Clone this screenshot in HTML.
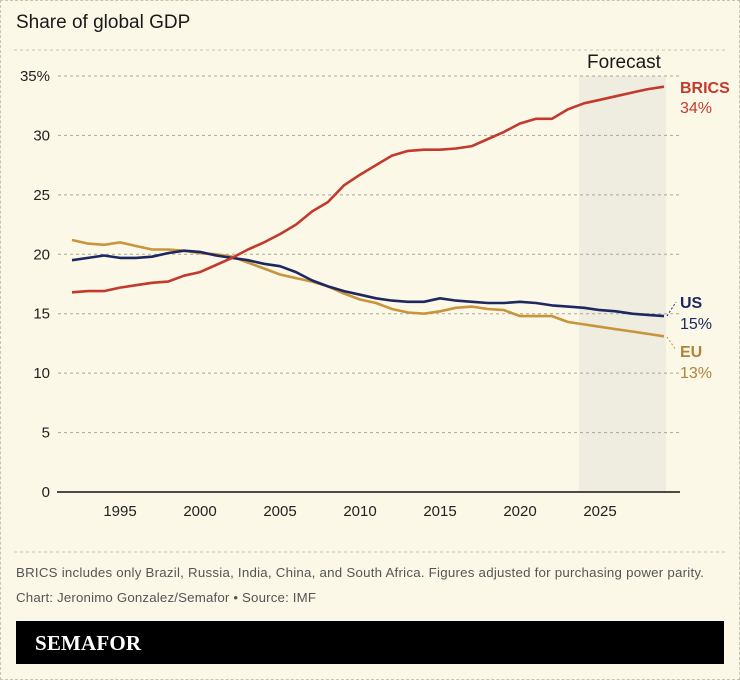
<!DOCTYPE html>
<html><head><meta charset="utf-8"><style>
body{margin:0;width:740px;height:680px;background:#fbf8e7;font-family:"Liberation Sans",sans-serif;overflow:hidden;position:relative}
.b{position:absolute;left:0;top:0;width:738px;height:678px;border:1px dashed #c9c5b5}
</style></head><body><div class="b"></div>
<svg id="s" width="740" height="680" style="position:absolute;left:0;top:0" font-family="Liberation Sans, sans-serif"></svg>
<script>
const X=y=>120+(y-1995)*16, Y=v=>492-v*416/35;
const B=[16.8,16.9,16.9,17.2,17.4,17.6,17.7,18.2,18.5,19.1,19.7,20.4,21.0,21.7,22.5,23.6,24.4,25.8,26.7,27.5,28.3,28.7,28.8,28.8,28.9,29.1,29.7,30.3,31.0,31.4,31.4,32.2,32.7,33.0,33.3,33.6,33.9,34.1];
const U=[19.5,19.7,19.9,19.7,19.7,19.8,20.1,20.3,20.2,19.9,19.7,19.5,19.2,19.0,18.5,17.8,17.3,16.9,16.6,16.3,16.1,16.0,16.0,16.3,16.1,16.0,15.9,15.9,16.0,15.9,15.7,15.6,15.5,15.3,15.2,15.0,14.9,14.8];
const E=[21.2,20.9,20.8,21.0,20.7,20.4,20.4,20.3,20.1,20.0,19.8,19.3,18.8,18.3,18.0,17.7,17.3,16.7,16.2,15.9,15.4,15.1,15.0,15.2,15.5,15.6,15.4,15.3,14.8,14.8,14.8,14.3,14.1,13.9,13.7,13.5,13.3,13.1];
let h='';
h+=`<text x="16" y="28" font-size="19" fill="#1a1a1a">Share of global GDP</text>`;
h+=`<line x1="14" y1="50" x2="726" y2="50" stroke="#c9c5b5" stroke-dasharray="3,3"/>`;
h+=`<rect x="579" y="76" width="87" height="416" fill="#efede0"/>`;
h+=`<text x="624" y="68" font-size="19" text-anchor="middle" fill="#1a1a1a">Forecast</text>`;
for(let v=5;v<=35;v+=5){h+=`<line x1="58" y1="${Y(v)}" x2="680" y2="${Y(v)}" stroke="#aaa79a" stroke-dasharray="3,3"/>`;
h+=`<text x="50" y="${Y(v)+5}" font-size="15" text-anchor="end" fill="#222">${v==35?'35%':v}</text>`}
h+=`<text x="50" y="497" font-size="15" text-anchor="end" fill="#222">0</text>`;
h+=`<line x1="57" y1="492" x2="680" y2="492" stroke="#111" stroke-width="1.5"/>`;
for(let y=1995;y<=2025;y+=5)h+=`<text x="${X(y)}" y="516" font-size="15" text-anchor="middle" fill="#222">${y}</text>`;
const P=(d,c)=>`<polyline fill="none" stroke="${c}" stroke-width="2.6" stroke-linejoin="round" points="${d.map((v,i)=>X(1992+i)+','+Y(v).toFixed(1)).join(' ')}"/>`;
h+=P(E,'#c8943c')+P(U,'#1e2860')+P(B,'#c23a2c');
h+=`<line x1="667" y1="316" x2="676" y2="302" stroke="#1e2860" stroke-dasharray="2,2"/>`;
h+=`<line x1="667" y1="337" x2="676" y2="350" stroke="#c8943c" stroke-dasharray="2,2"/>`;
h+=`<text x="680" y="93" font-size="16" font-weight="bold" fill="#c23a2c">BRICS</text><text x="680" y="113" font-size="16" fill="#c23a2c">34%</text>`;
h+=`<text x="680" y="308" font-size="16" font-weight="bold" fill="#1e2860">US</text><text x="680" y="329" font-size="16" fill="#1e2860">15%</text>`;
h+=`<text x="680" y="357" font-size="16" font-weight="bold" fill="#b0833a">EU</text><text x="680" y="378" font-size="16" fill="#b0833a">13%</text>`;
h+=`<line x1="14" y1="552" x2="726" y2="552" stroke="#c9c5b5" stroke-dasharray="3,3"/>`;
h+=`<text x="16" y="577" font-size="13.3" fill="#555" textLength="688">BRICS includes only Brazil, Russia, India, China, and South Africa. Figures adjusted for purchasing power parity.</text>`;
h+=`<text x="16" y="602" font-size="13.3" fill="#555" textLength="300">Chart: Jeronimo Gonzalez/Semafor • Source: IMF</text>`;
h+=`<rect x="16" y="621" width="708" height="43" fill="#000"/>`;
h+=`<text x="35" y="650" font-size="21" font-weight="bold" fill="#fff" font-family="Liberation Serif, serif" textLength="106">SEMAFOR</text>`;
document.getElementById('s').innerHTML=h;
</script></body></html>
